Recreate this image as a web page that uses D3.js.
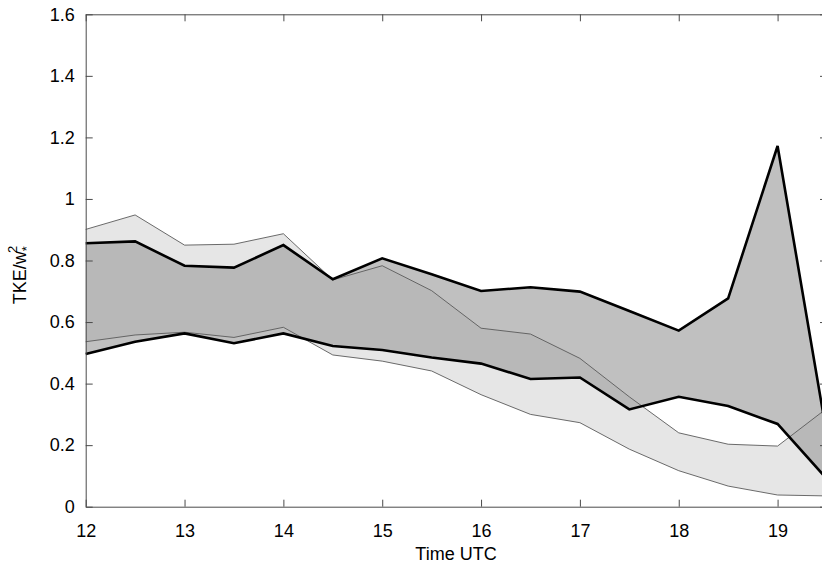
<!DOCTYPE html>
<html>
<head>
<meta charset="utf-8">
<script src="https://cdn.jsdelivr.net/npm/d3@7"></script>
<style>
  html, body { margin: 0; padding: 0; background: #fff; }
  svg { display: block; font-family: "Liberation Sans", Arial, sans-serif; }
</style>
</head>
<body>
<svg id="chart" width="822" height="572"></svg>
<script>
// ---- data ----
const time = [12, 12.5, 13, 13.5, 14, 14.5, 15, 15.5, 16, 16.5, 17, 17.5, 18, 18.5, 19, 19.5];
const thickUpper = [0.856, 0.862, 0.783, 0.777, 0.850, 0.739, 0.807, 0.755, 0.701, 0.713, 0.699, 0.636, 0.572, 0.677, 1.172, 0.23];
const thickLower = [0.496, 0.536, 0.563, 0.531, 0.563, 0.522, 0.509, 0.485, 0.465, 0.415, 0.420, 0.316, 0.357, 0.327, 0.269, 0.09];
const thinUpper  = [0.901, 0.948, 0.850, 0.853, 0.887, 0.737, 0.783, 0.702, 0.580, 0.561, 0.482, 0.357, 0.240, 0.203, 0.197, 0.32];
const thinLower  = [0.536, 0.558, 0.567, 0.550, 0.583, 0.493, 0.473, 0.441, 0.364, 0.300, 0.273, 0.187, 0.117, 0.067, 0.038, 0.035];
const xTicks = [12, 13, 14, 15, 16, 17, 18, 19];
const yTicks = [0, 0.2, 0.4, 0.6, 0.8, 1, 1.2, 1.4, 1.6];

// ---- layout ----
const pL = 85.7, pR = 827, pT = 14.3, pB = 506.7;
const svg = d3.select("#chart");
svg.append("rect").attr("width", 822).attr("height", 572).attr("fill", "#fff");

const x = d3.scaleLinear().domain([12, 19.5]).range([pL, pR]);
const y = d3.scaleLinear().domain([0, 1.6]).range([pB, pT]);

const idx = d3.range(time.length);
const area = (lo, hi) => d3.area().x(i => x(time[i])).y0(i => y(lo[i])).y1(i => y(hi[i]));
const line = arr => d3.line().x(i => x(time[i])).y(i => y(arr[i]));

const g = svg.append("g");
g.append("path").attr("d", area(thinLower, thinUpper)(idx)).attr("fill", "#e6e6e6");
g.append("path").attr("d", area(thickLower, thickUpper)(idx)).attr("fill", "#a4a4a4").attr("fill-opacity", 0.69);

[thinUpper, thinLower].forEach(a => g.append("path").attr("d", line(a)(idx))
  .attr("fill", "none").attr("stroke", "#5a5a5a").attr("stroke-width", 0.9));
[thickUpper, thickLower].forEach(a => g.append("path").attr("d", line(a)(idx))
  .attr("fill", "none").attr("stroke", "#000").attr("stroke-width", 2.6).attr("stroke-linejoin", "miter"));

// ---- axes (MATLAB-style box, inward ticks) ----
const axCol = "#4a4a4a";
const fmt = v => String(+v.toFixed(1));
const tickLen = 7;

const xAxB = svg.append("g").attr("transform", `translate(0,${pB})`)
  .call(d3.axisBottom(x).tickValues(xTicks).tickSizeInner(-tickLen).tickSizeOuter(0).tickPadding(18).tickFormat(d3.format("d")));
const xAxT = svg.append("g").attr("transform", `translate(0,${pT})`)
  .call(d3.axisTop(x).tickValues(xTicks).tickSizeInner(-tickLen).tickSizeOuter(0).tickFormat(""));
const yAxL = svg.append("g").attr("transform", `translate(${pL},0)`)
  .call(d3.axisLeft(y).tickValues(yTicks).tickSizeInner(-tickLen).tickSizeOuter(0).tickPadding(11).tickFormat(fmt));
const yAxR = svg.append("g").attr("transform", `translate(${pR},0)`)
  .call(d3.axisRight(y).tickValues(yTicks).tickSizeInner(-tickLen).tickSizeOuter(0).tickFormat(""));

[xAxB, xAxT, yAxL, yAxR].forEach(a => {
  a.selectAll(".domain").attr("stroke", axCol).attr("stroke-width", 1);
  a.selectAll(".tick line").attr("stroke", axCol).attr("stroke-width", 1);
  a.selectAll("text").attr("fill", "#000").attr("font-size", 18).attr("font-family", "Liberation Sans, Arial, sans-serif");
});

// axis titles
svg.append("text").attr("x", 456).attr("y", 560).attr("text-anchor", "middle")
  .attr("font-size", 18).attr("fill", "#000").text("Time UTC");

const yl = svg.append("text").attr("transform", "translate(26,275) rotate(-90)")
  .attr("text-anchor", "middle").attr("font-size", 18).attr("fill", "#000");
yl.append("tspan").text("TKE/w");
yl.append("tspan").attr("font-size", 13).attr("dy", 5).text("*");
yl.append("tspan").attr("font-size", 13).attr("dx", -7).attr("dy", -14).text("2");
</script>
</body>
</html>
